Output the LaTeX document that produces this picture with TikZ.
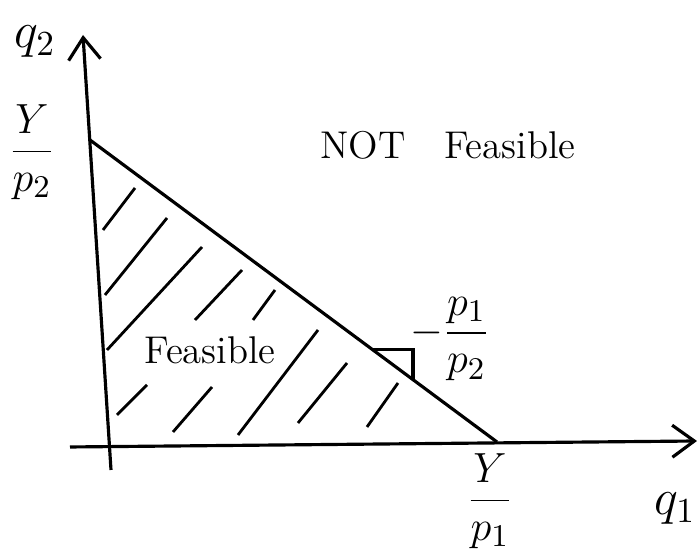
\documentclass[tikz,border=0pt]{standalone}
\usepackage{amsmath}
\usepackage{tikz}
\usetikzlibrary{arrows.meta,calc}

\begin{document}
\begin{tikzpicture}[
  x=1cm,y=1cm,
  font=\fontsize{11}{13}\selectfont,
  axis/.style={line width=0.9pt,-{Straight Barb[length=2.2mm,width=3.2mm]}},
  budget/.style={line width=0.9pt},
  hatch/.style={line width=0.8pt},
  lbl/.style={align=center,inner sep=1pt},
  frac/.style={align=center,inner sep=1pt,font=\fontsize{13}{15}\selectfont}]
\path[use as bounding box] (0,0) rectangle (7.00,5.49);
% axes
\coordinate (ybot) at (1.11,0.79);
\coordinate (ytop) at (0.83,5.14);
\coordinate (xleft) at (0.70,1.02);
\coordinate (xtip) at (6.97,1.08);
\draw[axis] (ybot) -- (ytop);
\draw[axis] (xleft) -- (xtip);
\node[lbl] (qtwo) at (0.35,5.07) {\Large$q_2$};
\node[lbl] (qone) at (6.75,0.40) {\Large$q_1$};

% budget line
\coordinate (ymax) at (0.90,4.09);
\coordinate (xmax) at (4.97,1.07);
\draw[budget] (ymax) -- (xmax);
\node[frac] (ypz) at (0.32,3.97) {$\dfrac{Y}{p_2}$};
\node[frac] (ypo) at (4.90,0.48) {$\dfrac{Y}{p_1}$};

% slope triangle
\coordinate (slp) at ($(ymax)!0.693!(xmax)$);
\draw[budget] (slp) -- ++(0.41,0) coordinate (corner) -- ++(0,-0.304);
\node[frac] (slope) at (4.50,2.10) {$-\dfrac{p_1}{p_2}$};

% hatching of the feasible set
\draw[hatch] (1.35,3.61) -- (1.03,3.19)
  (1.67,3.31) -- (1.05,2.54)
  (2.02,3.02) -- (1.07,1.99)
  (2.42,2.79) -- (1.95,2.29)
  (2.75,2.59) -- (2.53,2.29)
  (3.18,2.19) -- (2.38,1.14)
  (3.47,1.86) -- (2.98,1.26)
  (1.47,1.64) -- (1.17,1.34)
  (2.12,1.62) -- (1.73,1.17)
  (3.98,1.66) -- (3.67,1.22);

\node[lbl] (feas) at (2.10,1.99) {Feasible};
\node[lbl] (notfeas) at (4.48,4.04) {NOT\quad Feasible};
\end{tikzpicture}
\end{document}
